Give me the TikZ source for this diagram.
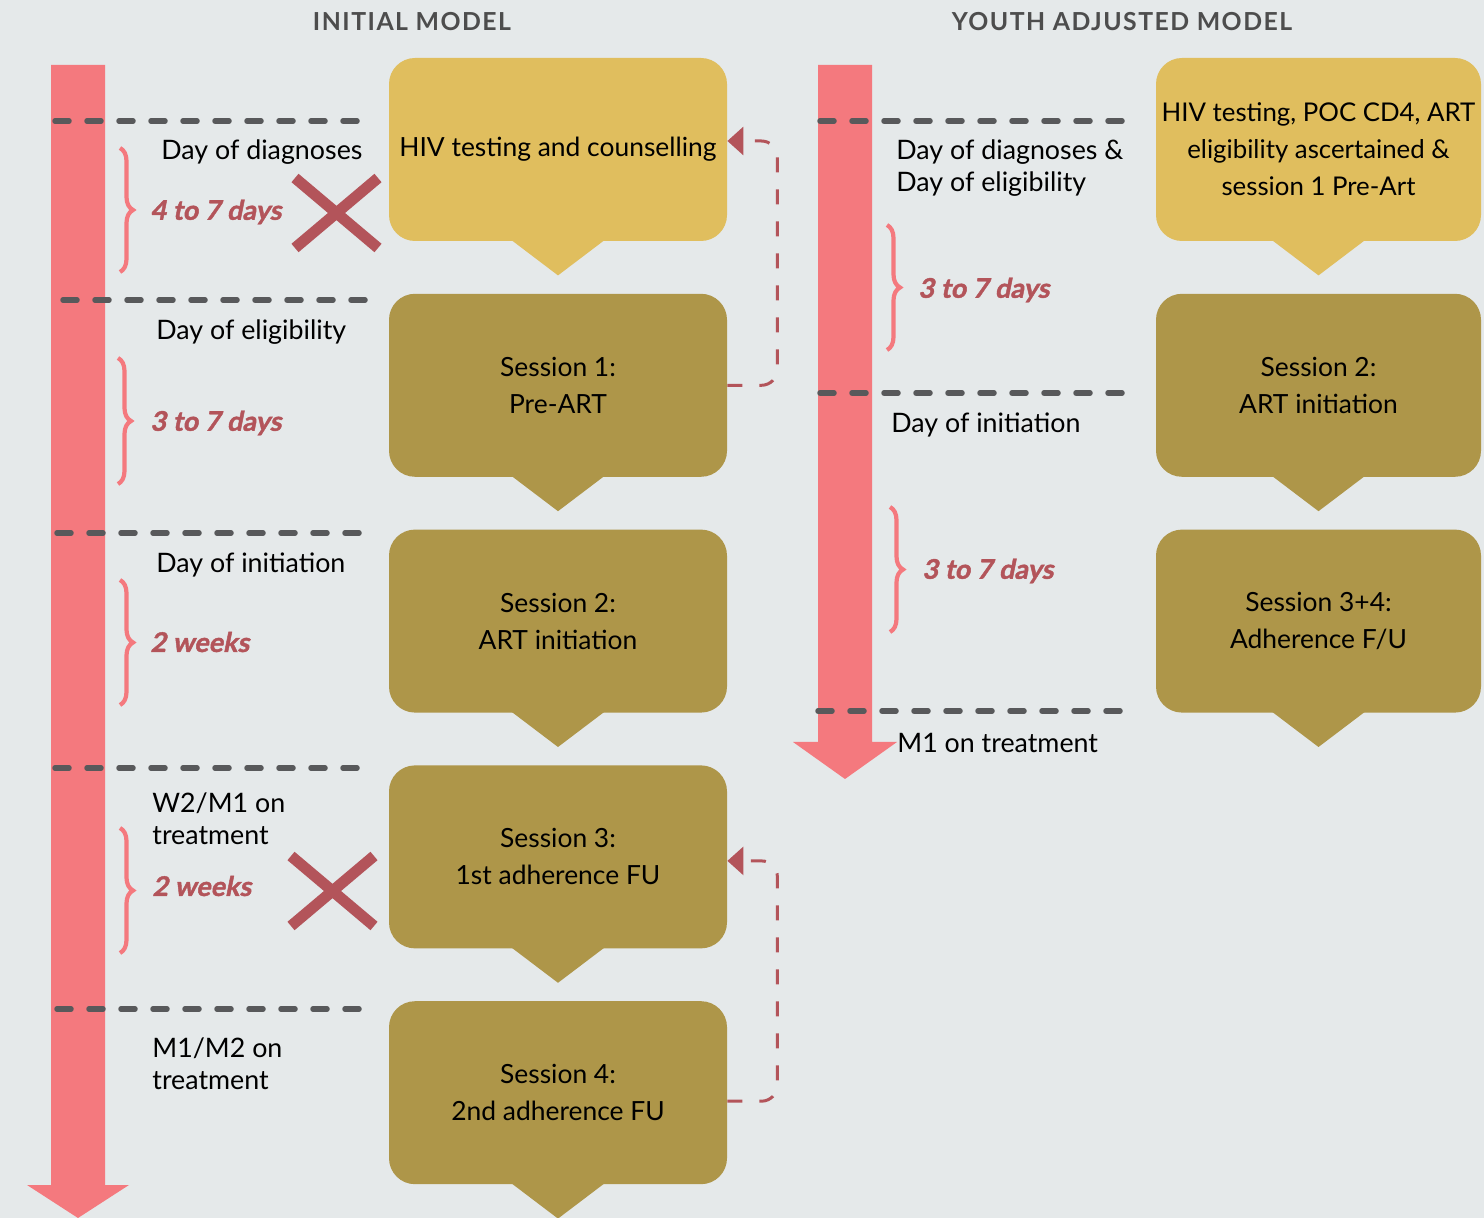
\documentclass[tikz,border=0pt]{standalone}
\usepackage{fontspec}
\setmainfont{Lato}
\usetikzlibrary{positioning,arrows.meta,decorations.pathreplacing}

\definecolor{bgcol}{RGB}{229,233,234}
\definecolor{lifeline}{RGB}{244,121,126}
\definecolor{testyellow}{RGB}{224,190,94}
\definecolor{sessolive}{RGB}{174,150,73}
\definecolor{rosered}{RGB}{179,84,90}
\definecolor{dashgray}{RGB}{88,89,91}
\definecolor{headgray}{RGB}{77,77,77}

\begin{document}
\begin{tikzpicture}[x=0.5pt,y=-0.5pt,node distance=26pt,
    bubble/.style={rectangle,rounded corners=13pt,minimum width=169pt,minimum height=91.5pt,
      inner sep=2pt,align=center,text=black,font=\fontsize{13.2}{18.5}\selectfont},
    lbl/.style={anchor=west,align=left,inner sep=0pt,text=black,font=\fontsize{13.4}{16}\selectfont},
    durlbl/.style={anchor=west,inner sep=0pt,text=rosered,
      font=\fontsize{13.5}{16}\selectfont\bfseries\addfontfeature{FakeSlant=0.2,FakeBold=1.5}},
    header/.style={text=headgray,font=\fontsize{12.4}{14}\selectfont\bfseries\addfontfeature{LetterSpace=6}},
    gridline/.style={draw=dashgray,line width=2.75pt,line cap=round,dash pattern=on 7pt off 9pt},
    brace/.style={decorate,decoration={brace,amplitude=6.5pt},draw=lifeline,line width=2.1pt},
    xmark/.style={draw=rosered,line width=5.5pt},
    backarrow/.style={draw=rosered,line width=1.5pt,dash pattern=on 7.5pt off 8.5pt,rounded corners=8pt,
      -{Triangle[length=8pt,width=14pt]}}]

  % canvas
  \fill[bgcol] (0,0) rectangle (1484,1218);
  \useasboundingbox (0,0) rectangle (1484,1218);

  \node[header] (hinit)  at (412,22)  {INITIAL MODEL};
  \node[header] (hyouth) at (1122,22) {YOUTH ADJUSTED MODEL};

  % time lines
  \fill[lifeline] (51,65) -- (105,65) -- (105,1185) -- (129,1185) -- (78,1218) -- (27,1185) -- (51,1185) -- cycle;
  \fill[lifeline] (818,65) -- (872,65) -- (872,742) -- (897,742) -- (845,779) -- (793,742) -- (818,742) -- cycle;

  \draw[gridline] (55,121) -- (362,121);
  \draw[gridline] (63,300) -- (371,300);
  \draw[gridline] (57,533) -- (371,533);
  \draw[gridline] (55,768) -- (362,768);
  \draw[gridline] (57,1009) -- (362,1009);
  \draw[gridline] (820,121) -- (1128,121);
  \draw[gridline] (820,393) -- (1128,393);
  \draw[gridline] (818,711) -- (1133,711);

  \draw[brace] (120,148) -- (120,272);
  \draw[brace] (118,358) -- (118,484);
  \draw[brace] (120,580) -- (120,705);
  \draw[brace] (120,828) -- (120,953);
  \draw[brace] (887,225) -- (887,350);
  \draw[brace] (890,507) -- (890,632);

  % initial model
  \node[bubble,fill=testyellow] (hiv) at (558,149.5) {HIV testing and counselling};
  \node[bubble,fill=sessolive]  (pre)  [below=of hiv]  {Session 1:\\Pre-ART};
  \node[bubble,fill=sessolive]  (init) [below=of pre]  {Session 2:\\ART initiation};
  \node[bubble,fill=sessolive]  (fu1)  [below=of init] {Session 3:\\1st adherence FU};
  \node[bubble,fill=sessolive]  (fu2)  [below=of fu1]  {Session 4:\\2nd adherence FU};

  % youth adjusted model
  \node[bubble,fill=testyellow,minimum width=162.5pt,font=\fontsize{12.9}{18.5}\selectfont] (yhiv) at (1318.5,149.5)
    {HIV testing, POC CD4, ART\\eligibility ascertained \&\\session 1 Pre-Art};
  \node[bubble,fill=sessolive,minimum width=162.5pt] (yinit) [below=of yhiv]  {Session 2:\\ART initiation};
  \node[bubble,fill=sessolive,minimum width=162.5pt] (yfu)   [below=of yinit] {Session 3+4:\\Adherence F/U};

  \foreach \b/\c in {hiv/testyellow,pre/sessolive,init/sessolive,fu1/sessolive,fu2/sessolive,
                     yhiv/testyellow,yinit/sessolive,yfu/sessolive}
    \fill[\c] ([xshift=-23.75pt,yshift=1pt]\b.south) -- ([xshift=23.75pt,yshift=1pt]\b.south)
      -- ([yshift=-17pt]\b.south) -- cycle;

  \node[lbl] (diag)  at (161,152) {Day of diagnoses};
  \node[lbl] (elig)  at (156,332) {Day of eligibility};
  \node[lbl] (iday)  at (156,565) {Day of initiation};
  \node[lbl] (w2m1)  at (152,819) {W2/M1 on\\treatment};
  \node[lbl] (m1m2)  at (152,1064) {M1/M2 on\\treatment};
  \node[lbl] (ydiag) at (896,168) {Day of diagnoses \&\\Day of eligibility};
  \node[lbl] (yiday) at (891,425) {Day of initiation};
  \node[lbl] (ym1)   at (897,743) {M1 on treatment};

  \node[durlbl] (d1)  at (150,212) {4 to 7 days};
  \node[durlbl] (d2)  at (150,423) {3 to 7 days};
  \node[durlbl] (d3)  at (150,642) {2 weeks};
  \node[durlbl] (d4)  at (152,886) {2 weeks};
  \node[durlbl] (yd1) at (918,290) {3 to 7 days};
  \node[durlbl] (yd2) at (922,571) {3 to 7 days};

  % crossed out steps
  \draw[xmark] (295,178) -- (378,248) (295,248) -- (378,178);
  \draw[xmark] (291,856) -- (374,926) (291,926) -- (374,856);

  \draw[backarrow] (pre.east) -- ++(50,0) |- ([yshift=4.25pt]hiv.east);
  \draw[backarrow] ([yshift=-4.25pt]fu2.east) -- ++(50,0) |- ([yshift=-2pt]fu1.east);
\end{tikzpicture}
\end{document}
